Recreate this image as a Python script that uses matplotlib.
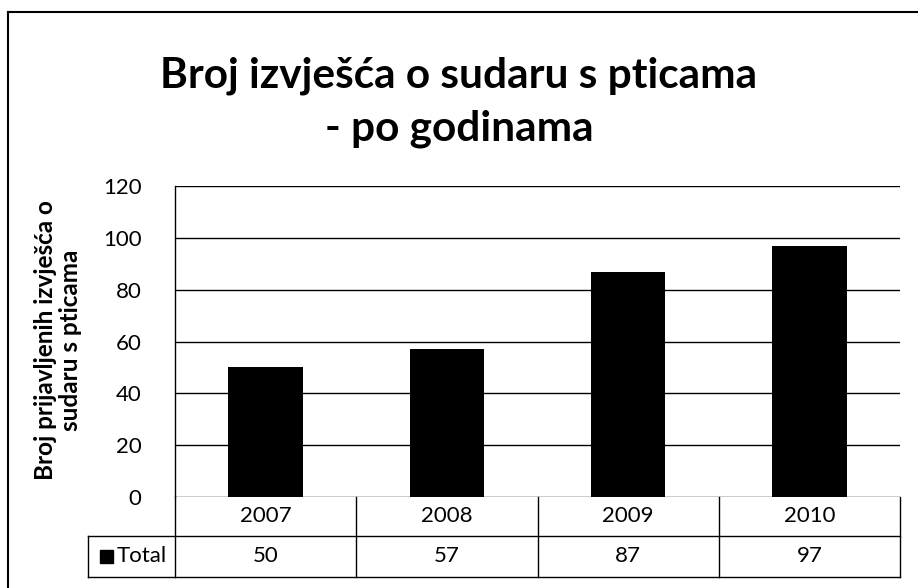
import matplotlib.pyplot as plt
from matplotlib.transforms import blended_transform_factory

years = ['2007', '2008', '2009', '2010']
total = [50, 57, 87, 97]
yticks = [0, 20, 40, 60, 80, 100, 120]
title_1 = 'Broj izvješća o sudaru s pticama'
title_2 = '- po godinama'
ylabel = 'Broj prijavljenih izvješća o\nsudaru s pticama'
series_name = 'Total'

W, H = 918, 588
plt.rcParams['font.family'] = ['Lato', 'DejaVu Sans']


def fx(px):
    return px / W


def fy(py):
    # pixel from top -> figure fraction
    return 1 - py / H


def main():
    fig = plt.figure(figsize=(W / 100, H / 100), dpi=100)
    ax = fig.add_axes([fx(175), fy(497), fx(900) - fx(175), fy(186) - fy(497)])

    x = list(range(len(years)))
    ax.bar(x, total, width=0.41, color='black', zorder=3)
    ax.set_xlim(-0.5, len(years) - 0.5)
    ax.set_ylim(0, 120)
    ax.set_yticks(yticks)
    ax.set_yticklabels([str(v) for v in yticks], fontsize=16)
    ax.tick_params(axis='y', length=0, pad=24)
    ax.set_xticks([])
    ax.grid(axis='y', color='black', linewidth=1, zorder=1)
    for s in ['top', 'right', 'bottom']:
        ax.spines[s].set_visible(False)
    ax.spines['left'].set_linewidth(1)

    # data table under the axis
    tr = blended_transform_factory(ax.transData, fig.transFigure)
    row1_top, row1_bot, row2_bot = 497, 536, 577
    for i in range(len(years) + 1):
        ax.plot([i - 0.5, i - 0.5], [fy(row1_top), fy(row2_bot)], color='black',
                lw=1, transform=tr, clip_on=False)
    for yy in [row1_bot, row2_bot]:
        fig.add_artist(plt.Line2D([fx(88), fx(900)], [fy(yy), fy(yy)], color='black', lw=1))
    fig.add_artist(plt.Line2D([fx(88), fx(88)], [fy(row1_bot), fy(row2_bot)], color='black', lw=1))
    for i, (yr, v) in enumerate(zip(years, total)):
        ax.text(i, fy((row1_top + row1_bot) / 2), yr, transform=tr, ha='center', va='center',
                fontsize=16)
        ax.text(i, fy((row1_bot + row2_bot) / 2), str(v), transform=tr, ha='center', va='center',
                fontsize=16)
    fig.add_artist(plt.Rectangle((fx(100), fy(563)), fx(13), fy(550) - fy(563), color='black'))
    fig.text(fx(117), fy((row1_bot + row2_bot) / 2), series_name, ha='left', va='center', fontsize=16)

    # titles
    fig.text(0.5, fy(88), title_1, ha='center', va='baseline', fontsize=30.5, fontweight='bold')
    fig.text(0.5, fy(140), title_2, ha='center', va='baseline', fontsize=30.5, fontweight='bold')
    fig.text(fx(58), fy(340), ylabel, rotation=90, ha='center', va='center', fontsize=17.5,
             fontweight='bold', multialignment='center', linespacing=1.1)

    # outer chart border
    fig.add_artist(plt.Line2D([fx(8), fx(8)], [fy(12), 0], color='black', lw=1.5))
    fig.add_artist(plt.Line2D([fx(8), 1], [fy(12), fy(12)], color='black', lw=1.5))

    fig.savefig('out.png', dpi=100)


if __name__ == "__main__":
    main()
